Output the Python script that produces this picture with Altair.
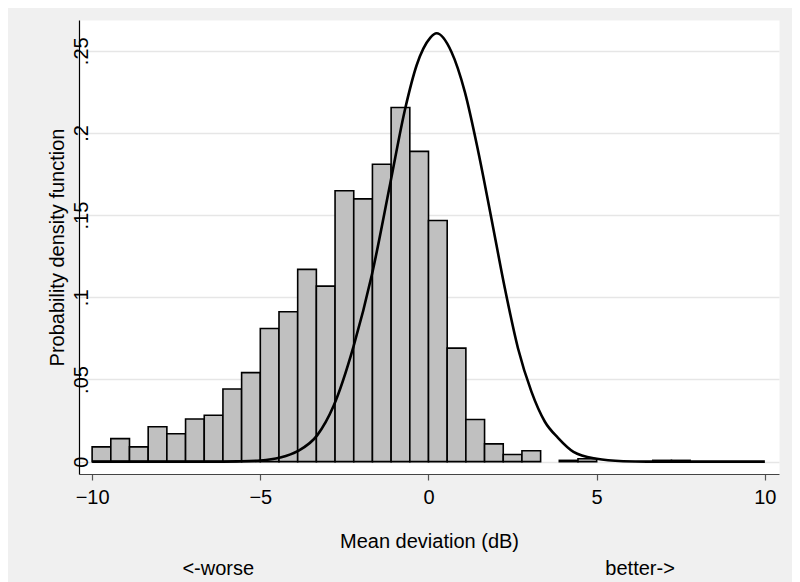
import altair as alt
import pandas as pd

# Histogram: 36 bins of width 20/36 starting at -10 (density values)
bin_start = -10.0
bin_width = 20.0 / 36.0
bar_heights = [0.009, 0.014, 0.009, 0.0212, 0.017, 0.026, 0.0282, 0.0442, 0.0542,
               0.081, 0.0912, 0.1170, 0.1068, 0.1648, 0.1599, 0.1809, 0.2155, 0.1888,
               0.1467, 0.0691, 0.0257, 0.0108, 0.0044, 0.0066, 0.0, 0.0008,
               0.0018, 0.0, 0.0, 0.0, 0.0008, 0.0008, 0.0, 0.0, 0.0, 0.0]

# Overlaid normal density curve
curve_x = [-10.0, -6.5, -5.7, -5.0, -4.41, -3.89, -3.31, -2.82, -2.23, -1.68, -1.14,
           -0.69, -0.35, 0.05, 0.24, 0.68, 1.08, 1.48, 1.87, 2.27, 2.66, 3.06, 3.46,
           3.85, 4.31, 5.0, 5.79, 6.5, 10.0]
curve_y = [0.0, 0.0, 0.0002, 0.0007, 0.0025, 0.0064, 0.0160, 0.0340, 0.0700, 0.1140,
           0.1690, 0.2150, 0.2413, 0.2578, 0.2606, 0.2494, 0.2250, 0.1886, 0.1480,
           0.1055, 0.0690, 0.0426, 0.0243, 0.0145, 0.0060, 0.0018, 0.0003, 0.0, 0.0]

x_ticks = [-10, -5, 0, 5, 10]
y_ticks = [0, 0.05, 0.1, 0.15, 0.2, 0.25]

notes_text = ["<-worse", "better->"]
notes_x = [-6.25, 6.29]

FONT = "Liberation Sans"
FS = 20

bars = pd.DataFrame({
    "x0": [bin_start + i * bin_width for i in range(len(bar_heights))],
    "x1": [bin_start + (i + 1) * bin_width for i in range(len(bar_heights))],
    "h": bar_heights,
})
bars = bars[bars["h"] > 0]
curve = pd.DataFrame({"x": curve_x, "y": curve_y})
notes = pd.DataFrame({"t": notes_text, "x": notes_x})

xscale = alt.Scale(domain=[-10.39, 10.42], nice=False, zero=False)
yscale = alt.Scale(domain=[-0.0075, 0.2687], nice=False, zero=False)

xaxis = alt.Axis(values=x_ticks, title="Mean deviation (dB)", grid=False,
                 domainColor="#444444", domainWidth=1.2, tickColor="#555555",
                 tickSize=6, tickWidth=1.2, labelFontSize=FS, labelFont=FONT,
                 labelColor="black", labelPadding=7, titleFont=FONT,
                 titleFontSize=FS, titleFontWeight="normal", titleColor="black",
                 titlePadding=24, labelFlush=False)
yaxis = alt.Axis(values=y_ticks, title="Probability density function", grid=True,
                 gridColor="#E6E6E6", gridWidth=1.6, domainColor="black",
                 domainWidth=1.2, ticks=False, labelAngle=270, labelAlign="center",
                 labelBaseline="middle", labelPadding=-2, labelFontSize=FS,
                 labelFont=FONT, labelColor="black",
                 labelExpr="replace(format(datum.value, '~g'), '0.', '.')",
                 titleFont=FONT, titleFontSize=FS, titleFontWeight="normal",
                 titleColor="black", titleAngle=270, titleX=-22, titleY=227,
                 titleAlign="center", titleBaseline="middle", labelFlush=False)

hist = alt.Chart(bars).mark_rect(fill="#C0C0C0", stroke="black", strokeWidth=1.6).encode(
    x=alt.X("x0:Q", scale=xscale, axis=xaxis),
    x2="x1:Q",
    y=alt.Y("h:Q", scale=yscale, axis=yaxis),
    y2=alt.datum(0),
)

line = alt.Chart(curve).mark_line(color="black", strokeWidth=2.6,
                                  interpolate="monotone").encode(
    x=alt.X("x:Q", scale=xscale),
    y=alt.Y("y:Q", scale=yscale),
)

text = alt.Chart(notes).mark_text(font=FONT, fontSize=FS, color="black",
                                  align="center", baseline="middle").encode(
    x=alt.X("x:Q", scale=xscale),
    y=alt.value(549),
    text="t:N",
)

chart = alt.layer(hist, line, text).properties(
    width=700, height=454,
    autosize=alt.AutoSizeParams(type="none"),
    padding={"left": 71, "top": 12, "right": 13, "bottom": 108},
    background="#F0F0F0",
).configure_view(fill="white", stroke="transparent")

chart.save("out.html", embed_options={"renderer": "svg", "actions": False})
